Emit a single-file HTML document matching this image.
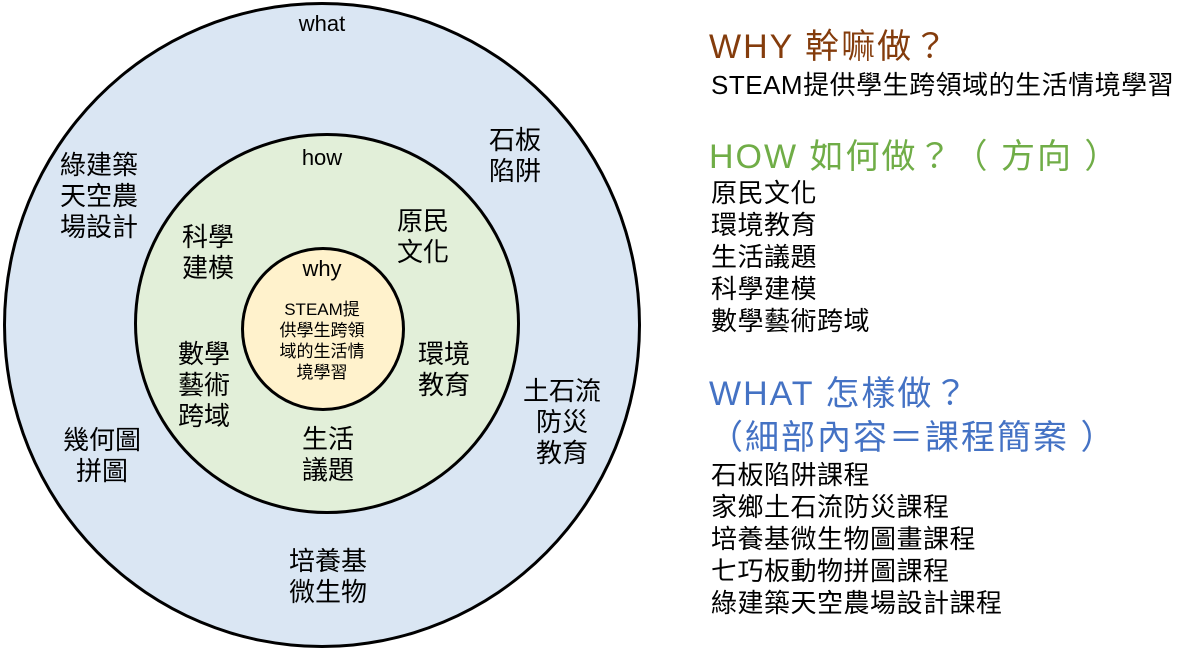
<!DOCTYPE html>
<html><head><meta charset="utf-8"><style>
body{margin:0;width:1194px;height:649px;background:#fff;position:relative;overflow:hidden;font-family:"Liberation Sans","Noto Sans CJK TC",sans-serif;}
.c{position:absolute;border:3px solid #000;border-radius:50%;box-sizing:border-box}
.t{position:absolute;text-align:center;font-size:26px;line-height:31px;color:#000;transform:translateX(-50%);white-space:nowrap}
.r{position:absolute;left:711px;white-space:nowrap;font-size:26px;line-height:32px;color:#000;letter-spacing:0.5px}
.h{position:absolute;left:709px;white-space:nowrap;font-size:34px;line-height:40px;letter-spacing:2px}
</style></head><body>
<div class="c" style="left:3px;top:2px;width:638px;height:646px;background:#dae6f3"></div>
<div class="c" style="left:134px;top:133px;width:386px;height:381px;background:#e2efd9"></div>
<div class="c" style="left:241px;top:247px;width:164px;height:164px;background:#fff2cc"></div>
<div class="t" style="left:322px;top:8px;font-size:22px">what</div>
<div class="t" style="left:322px;top:142px;font-size:22px">how</div>
<div class="t" style="left:322px;top:253px;font-size:22px">why</div>
<div class="t" style="left:322px;top:299px;font-size:17px;line-height:21px">STEAM提<br>供學生跨領<br>域的生活情<br>境學習</div>
<div class="t" style="left:99px;top:150px">綠建築<br>天空農<br>場設計</div>
<div class="t" style="left:515px;top:125px">石板<br>陷阱</div>
<div class="t" style="left:208px;top:222px">科學<br>建模</div>
<div class="t" style="left:423px;top:206px">原民<br>文化</div>
<div class="t" style="left:204px;top:339px">數學<br>藝術<br>跨域</div>
<div class="t" style="left:444px;top:339px">環境<br>教育</div>
<div class="t" style="left:328px;top:424px">生活<br>議題</div>
<div class="t" style="left:562px;top:376px">土石流<br>防災<br>教育</div>
<div class="t" style="left:102px;top:425px">幾何圖<br>拼圖</div>
<div class="t" style="left:328px;top:546px">培養基<br>微生物</div>

<div class="h" style="top:27px;color:#843c0c">WHY 幹嘛做？</div>
<div class="r" style="top:69px">STEAM提供學生跨領域的生活情境學習</div>
<div class="h" style="top:137px;color:#70ad47">HOW 如何做？（ 方向 ）</div>
<div class="r" style="top:177px">原民文化<br>環境教育<br>生活議題<br>科學建模<br>數學藝術跨域</div>
<div class="h" style="top:374px;color:#4472c4">WHAT 怎樣做？</div>
<div class="h" style="top:418px;color:#4472c4">（細部內容＝課程簡案 ）</div>
<div class="r" style="top:459px">石板陷阱課程<br>家鄉土石流防災課程<br>培養基微生物圖畫課程<br>七巧板動物拼圖課程<br>綠建築天空農場設計課程</div>
</body></html>
